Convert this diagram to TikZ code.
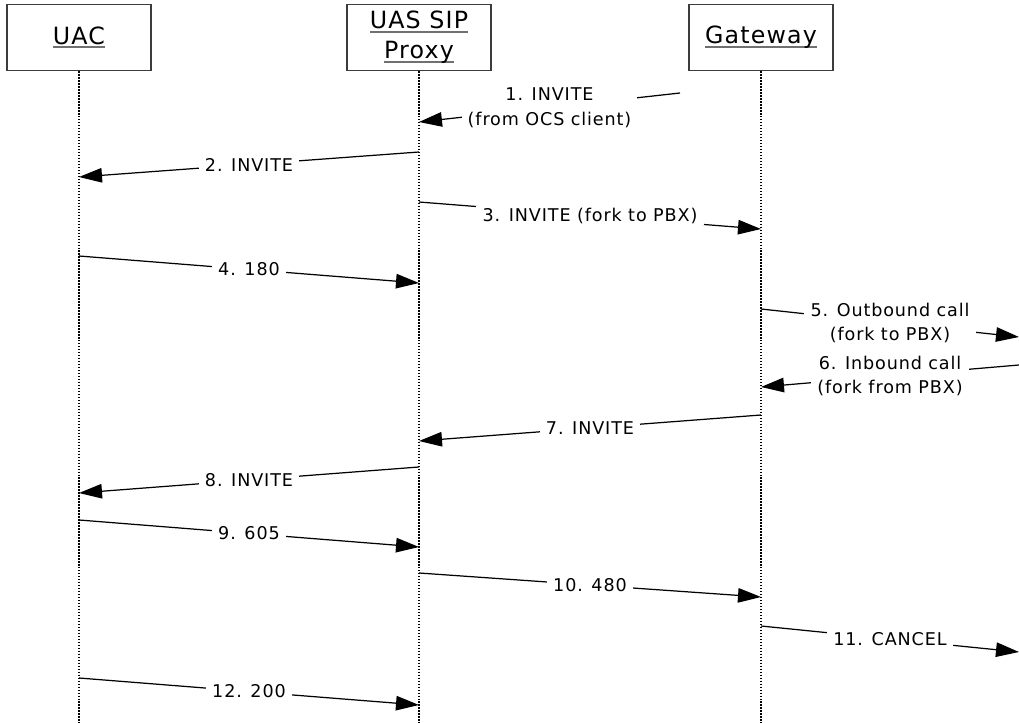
\documentclass[tikz,border=0pt]{standalone}
\usepackage{fontspec}
\usetikzlibrary{arrows.meta}
\newfontfamily\lblfont[LetterSpace=5]{DejaVu Sans}
\newfontfamily\headfont[LetterSpace=5]{DejaVu Sans}
\definecolor{boxgray}{HTML}{3C3C3C}
\definecolor{ulgray}{HTML}{707070}
\newcommand\hdul[1]{\leavevmode\setbox0=\hbox{#1}\rlap{\textcolor{ulgray}{\rule[-2.4pt]{\wd0}{1.1pt}}}\box0}
\tikzset{
  head/.style={draw=boxgray, line width=0.9pt, minimum width=2.88cm, minimum height=1.32cm,
    align=center, font=\headfont\fontsize{13.5pt}{17pt}\selectfont},
  life/.style={line width=0.6pt, dash pattern=on 0.8pt off 0.9pt},
  msg/.style={-{Triangle[length=4.6mm,width=2.9mm]}, line width=0.7pt},
  lbl/.style={fill=white, inner xsep=3.5pt, inner ysep=1pt, align=center,
    font=\lblfont\fontsize{10pt}{14pt}\selectfont}
}
\begin{document}
\begin{tikzpicture}[x=0.02cm, y=-0.02cm]
\useasboundingbox (0,0) rectangle (1019,723);
% participants:
\node[head] (uac) at (79,37.5) {\hdul{UAC}};
\node[head] (prx) at (419,37.5) {\hdul{UAS SIP}\\\hdul{Proxy}};
\node[head] (gw) at (761,37.5) {\hdul{Gateway}};
\coordinate (ocs) at (680,93);
\coordinate (pbx) at (1019,0);
% lifelines:
\foreach \p in {uac,prx,gw}
  \draw[life] (\p.south) -- (\p.south |- 0,723);
% messages:
\draw[msg] (ocs) -- node[lbl] {1. INVITE\\(from OCS client)} (prx |- 0,122);
\draw[msg] (prx |- 0,152) -- node[lbl] {2. INVITE} (uac |- 0,177);
\draw[msg] (prx |- 0,202) -- node[lbl] {3. INVITE (fork to PBX)} (gw |- 0,229);
\draw[msg] (uac |- 0,256) -- node[lbl] {4. 180} (prx |- 0,283);
\draw[msg] (gw |- 0,309) -- node[lbl] {5. Outbound call\\(fork to PBX)} (pbx |- 0,337);
\draw[msg] (pbx |- 0,365) -- node[lbl] {6. Inbound call\\(fork from PBX)} (gw |- 0,387);
\draw[msg] (gw |- 0,415) -- node[lbl] {7. INVITE} (prx |- 0,441);
\draw[msg] (prx |- 0,467) -- node[lbl] {8. INVITE} (uac |- 0,493);
\draw[msg] (uac |- 0,520) -- node[lbl] {9. 605} (prx |- 0,547);
\draw[msg] (prx |- 0,573) -- node[lbl] {10. 480} (gw |- 0,597);
\draw[msg] (gw |- 0,626) -- node[lbl] {11. CANCEL} (pbx |- 0,652);
\draw[msg] (uac |- 0,678) -- node[lbl] {12. 200} (prx |- 0,705);
\end{tikzpicture}
\end{document}
